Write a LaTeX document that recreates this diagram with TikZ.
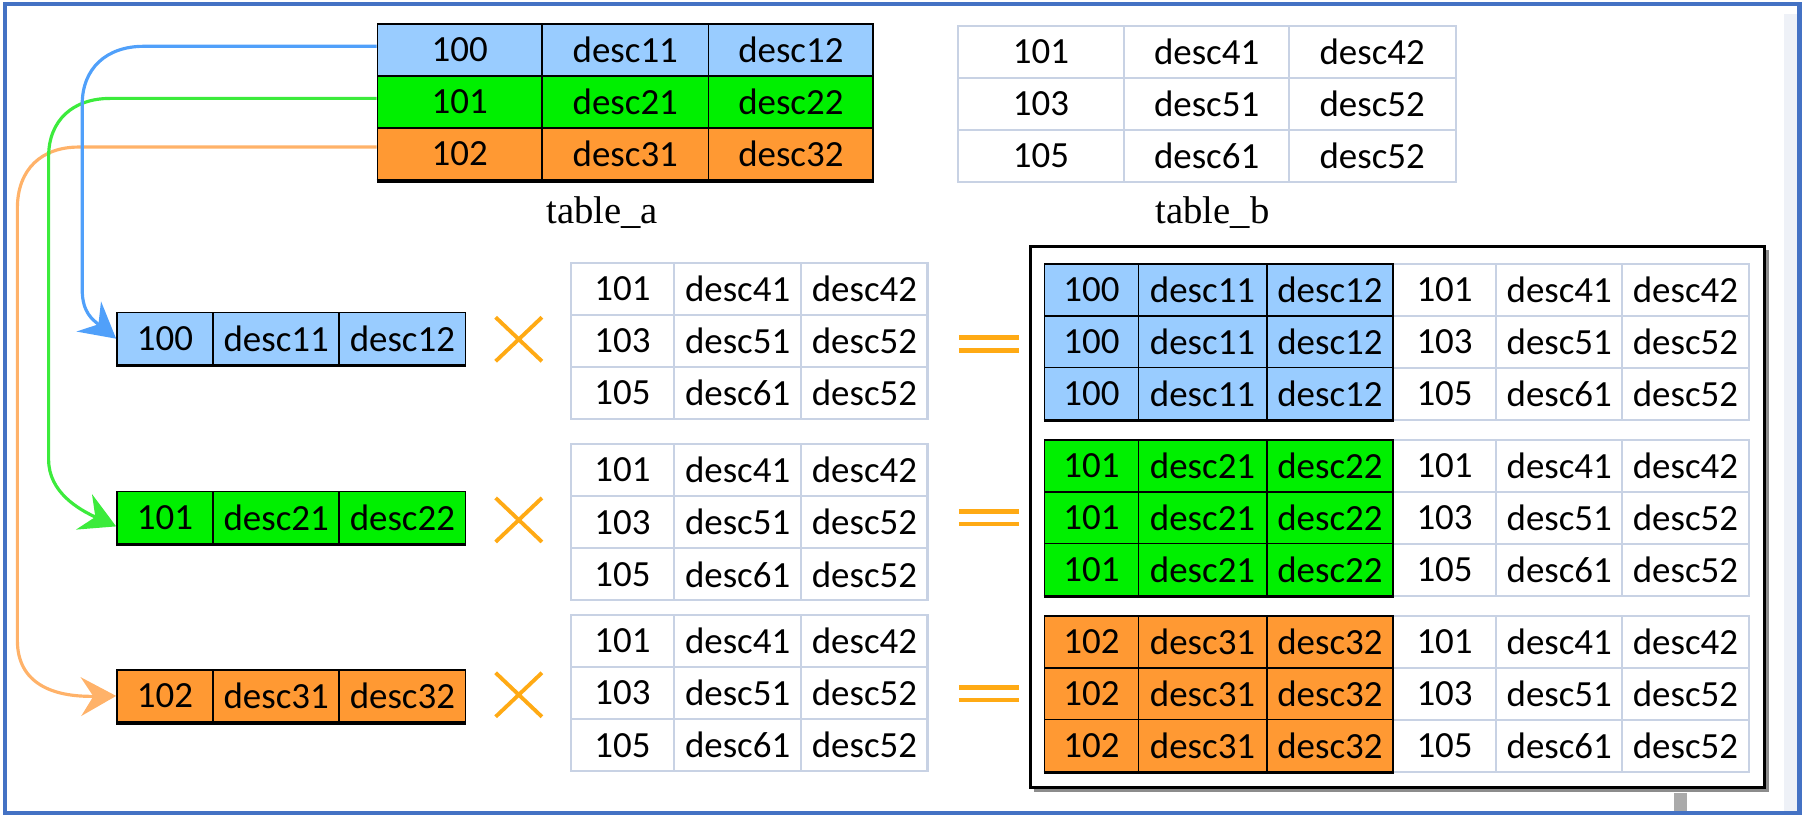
\documentclass[tikz,border=0pt]{standalone}
\usepackage{fontspec}
\setmainfont{Carlito}
\newfontfamily\captionserif{Liberation Serif}
\usetikzlibrary{arrows.meta}
\definecolor{framebl}{RGB}{68,114,196}
\definecolor{rowblue}{RGB}{153,204,255}
\definecolor{rowgreen}{RGB}{0,240,0}
\definecolor{roworange}{RGB}{255,153,51}
\definecolor{gridgray}{RGB}{200,210,228}
\definecolor{linkblue}{RGB}{80,160,250}
\definecolor{linkgreen}{RGB}{60,235,60}
\definecolor{linkorange}{RGB}{255,178,105}
\definecolor{signorange}{RGB}{255,170,20}
\definecolor{stripgray}{RGB}{238,241,247}
\definecolor{bargray}{RGB}{170,170,170}
\newcommand{\cellu}{0.1158mm}

\tikzset{
  keycell/.style={draw=black, line width=0.45pt, inner sep=0pt, minimum height=45*\cellu, font=\fontsize{10.5}{12}\selectfont},
  plaincell/.style={draw=gridgray, fill=white, line width=0.6pt, inner sep=0pt, minimum height=45*\cellu, font=\fontsize{10.5}{12}\selectfont},
  tablecap/.style={font=\captionserif\fontsize{11}{13}\selectfont},
  link/.style={line width=0.9pt, -{Stealth[length=10pt,width=11pt,inset=3.5pt]}},
  sign/.style={signorange, line width=1.1pt},
}

\begin{document}
\begin{tikzpicture}[x=0.1158mm, y=-0.1158mm]
\useasboundingbox (0,0) rectangle (1560.5,703.8);
% outer frame
\fill[stripgray] (1541,12) rectangle (1552,700);
\draw[framebl, line width=1.15pt] (4.3,3.5) rectangle (1554,702);
\fill[bargray] (1446,685) rectangle (1457,700);

% table_a
\foreach \rw/\clr/\ka/\da/\db in {1/rowblue/100/desc11/desc12, 2/rowgreen/101/desc21/desc22, 3/roworange/102/desc31/desc32} {
  \node[keycell, fill=\clr, minimum width=142*\cellu] (a\rw1) at (397,{45*\rw-2}) {\ka};
  \node[keycell, fill=\clr, minimum width=144*\cellu] (a\rw2) at (540,{45*\rw-2}) {\da};
  \node[keycell, fill=\clr, minimum width=142*\cellu] (a\rw3) at (683,{45*\rw-2}) {\db};
}
\draw[line width=1pt] (a31.south west) -- (a33.south east);
\node[tablecap] (capa) at (520,184) {table\_a};

% table_b
\foreach \rw/\kb/\dc/\dd in {1/101/desc41/desc42, 2/103/desc51/desc52, 3/105/desc61/desc52} {
  \node[plaincell, minimum width=144*\cellu] (b\rw1) at (899,{44.8*\rw+0.1}) {\kb};
  \node[plaincell, minimum width=142*\cellu] (b\rw2) at (1042,{44.8*\rw+0.1}) {\dc};
  \node[plaincell, minimum width=144*\cellu] (b\rw3) at (1185,{44.8*\rw+0.1}) {\dd};
}
\node[tablecap] (capb) at (1047,184) {table\_b};

% single rows of table_a
\foreach \rw/\yc/\clr/\ka/\da/\db in {1/292.5/rowblue/100/desc11/desc12, 2/447/rowgreen/101/desc21/desc22, 3/601/roworange/102/desc31/desc32} {
  \node[keycell, fill=\clr, minimum width=83*\cellu] (s\rw1) at (142.5,\yc) {\ka};
  \node[keycell, fill=\clr, minimum width=109*\cellu] (s\rw2) at (238.5,\yc) {\da};
  \node[keycell, fill=\clr, minimum width=109*\cellu] (s\rw3) at (347.5,\yc) {\db};
  \draw[line width=1pt] (s\rw1.south west) -- (s\rw3.south east);
}

% copies of table_b
\foreach \blk/\ytop in {1/227, 2/383.5, 3/531} {
  \foreach \rw/\kb/\dc/\dd in {1/101/desc41/desc42, 2/103/desc51/desc52, 3/105/desc61/desc52} {
    \node[plaincell, minimum width=89*\cellu] (m\blk\rw1) at (537.5,{\ytop+22.5+45*(\rw-1)}) {\kb};
    \node[plaincell, minimum width=110*\cellu] (m\blk\rw2) at (637,{\ytop+22.5+45*(\rw-1)}) {\dc};
    \node[plaincell, minimum width=109*\cellu] (m\blk\rw3) at (746.5,{\ytop+22.5+45*(\rw-1)}) {\dd};
  }
}

% cross and equal signs
\foreach \yx/\ye in {293/297, 449/447, 600/599} {
  \draw[sign] (428,{\yx-19}) -- (468,{\yx+19}) (428,{\yx+19}) -- (468,{\yx-19});
  \draw[sign, line width=1.3pt] (828,{\ye-5.5}) -- (880,{\ye-5.5}) (828,{\ye+5.5}) -- (880,{\ye+5.5});
}

% result
\draw[black!45, line width=1pt] (892.5,682.5) -| (1526.5,215.5);
\draw[line width=0.9pt] (890,213) rectangle (1524,680);
\foreach \blk/\ytop/\clr/\ka/\da/\db in {1/228/rowblue/100/desc11/desc12, 2/380/rowgreen/101/desc21/desc22, 3/532/roworange/102/desc31/desc32} {
  \foreach \rw/\kb/\dc/\dd in {1/101/desc41/desc42, 2/103/desc51/desc52, 3/105/desc61/desc52} {
    \node[plaincell, minimum width=89*\cellu] (r\blk\rw4) at (1247.5,{\ytop+22.4+44.8*(\rw-1)}) {\kb};
    \node[plaincell, minimum width=109*\cellu] (r\blk\rw5) at (1346.5,{\ytop+22.4+44.8*(\rw-1)}) {\dc};
    \node[plaincell, minimum width=109*\cellu] (r\blk\rw6) at (1455.5,{\ytop+22.4+44.8*(\rw-1)}) {\dd};
    \node[keycell, fill=\clr, minimum width=81*\cellu] (r\blk\rw1) at (942.5,{\ytop+22.4+44.8*(\rw-1)}) {\ka};
    \node[keycell, fill=\clr, minimum width=111*\cellu] (r\blk\rw2) at (1038.5,{\ytop+22.4+44.8*(\rw-1)}) {\da};
    \node[keycell, fill=\clr, minimum width=109*\cellu] (r\blk\rw3) at (1148.5,{\ytop+22.4+44.8*(\rw-1)}) {\db};
  }
  \draw[line width=1pt] (r\blk31.south west) -- (r\blk33.south east);
}

% links from table_a to the single rows
\draw[link, linkorange] ([yshift=2pt]a31.west) -- (68,127) .. controls (36,127) and (15,146) .. (15,180) -- (15,553) .. controls (15,590) and (45,602) .. (s31.west);
\draw[link, linkgreen] ([yshift=1pt]a21.west) -- (95,85) .. controls (63,85) and (42,104) .. (42,135) -- (42,397) .. controls (42,425) and (68,440) .. ([yshift=-2.5pt]s21.west);
\draw[link, linkblue] ([yshift=1pt]a11.west) -- (124,40) .. controls (92,40) and (71,59) .. (71,90) -- (71,250) .. controls (71,270) and (80,276) .. (s11.west);
\end{tikzpicture}
\end{document}
